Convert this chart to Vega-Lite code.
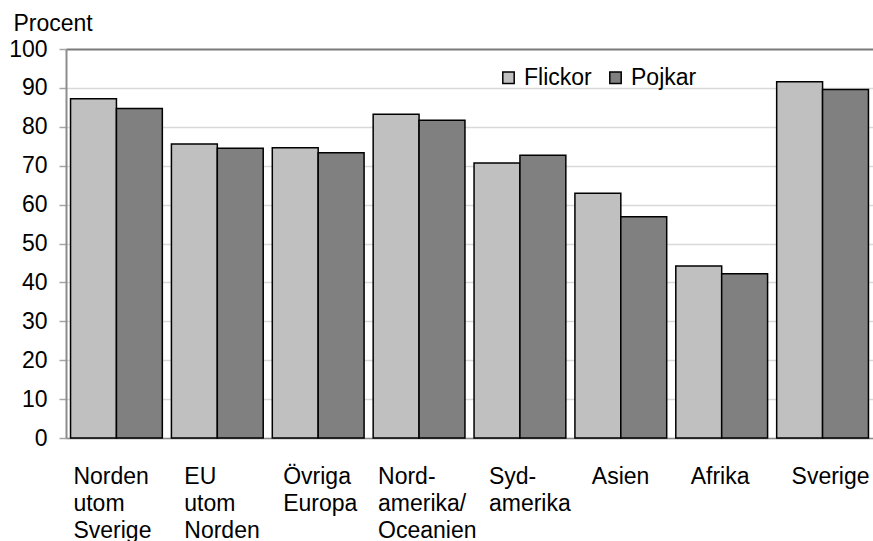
{
  "$schema": "https://vega.github.io/schema/vega-lite/v6.json",
  "width": 807,
  "height": 389,
  "autosize": {"type": "none"},
  "padding": {"left": 66, "top": 49, "right": 0, "bottom": 103},
  "background": "white",
  "config": {
    "view": {"stroke": null},
    "font": "Liberation Sans",
    "axis": {"labelFont": "Liberation Sans", "titleFont": "Liberation Sans", "labelColor": "black", "titleColor": "black"},
    "legend": {"labelFont": "Liberation Sans"}
  },
  "data": {
    "values": [
      {"region": "Norden utom Sverige", "kon": "Flickor", "procent": 87.2},
      {"region": "Norden utom Sverige", "kon": "Pojkar", "procent": 84.7},
      {"region": "EU utom Norden", "kon": "Flickor", "procent": 75.6},
      {"region": "EU utom Norden", "kon": "Pojkar", "procent": 74.5},
      {"region": "Övriga Europa", "kon": "Flickor", "procent": 74.6},
      {"region": "Övriga Europa", "kon": "Pojkar", "procent": 73.3},
      {"region": "Nord- amerika/ Oceanien", "kon": "Flickor", "procent": 83.2},
      {"region": "Nord- amerika/ Oceanien", "kon": "Pojkar", "procent": 81.7},
      {"region": "Syd- amerika", "kon": "Flickor", "procent": 70.7},
      {"region": "Syd- amerika", "kon": "Pojkar", "procent": 72.7},
      {"region": "Asien", "kon": "Flickor", "procent": 62.9},
      {"region": "Asien", "kon": "Pojkar", "procent": 56.9},
      {"region": "Afrika", "kon": "Flickor", "procent": 44.2},
      {"region": "Afrika", "kon": "Pojkar", "procent": 42.2},
      {"region": "Sverige", "kon": "Flickor", "procent": 91.6},
      {"region": "Sverige", "kon": "Pojkar", "procent": 89.6}
    ]
  },
  "mark": {"type": "bar", "stroke": "black", "strokeWidth": 1.5},
  "encoding": {
    "x": {
      "field": "region",
      "type": "nominal",
      "sort": null,
      "scale": {"paddingInner": 0.09, "paddingOuter": 0.045},
      "axis": {
        "title": null,
        "labelAngle": 0,
        "labelExpr": "split(datum.label, ' ')",
        "labelFontSize": 23,
        "labelLineHeight": 27,
        "labelBaseline": "top",
        "labelAlign": "left",
        "labelPadding": 27,
        "labelOffset": {
          "condition": [
            {"test": "datum.value === 'Norden utom Sverige'", "value": -43},
            {"test": "datum.value === 'EU utom Norden'", "value": -33},
            {"test": "datum.value === 'Övriga Europa'", "value": -35},
            {"test": "datum.value === 'Nord- amerika/ Oceanien'", "value": -41},
            {"test": "datum.value === 'Asien'", "value": -29}
          ],
          "value": -31
        },
        "ticks": false,
        "domainColor": "#8c8c8c",
        "domainWidth": 1.5,
        "labelOverlap": false,
        "labelBound": false
      }
    },
    "xOffset": {"field": "kon", "type": "nominal", "scale": {"paddingInner": 0, "paddingOuter": 0}},
    "y": {
      "field": "procent",
      "type": "quantitative",
      "scale": {"domain": [0, 100], "nice": false},
      "axis": {
        "title": "Procent",
        "titleAngle": 0,
        "titleAlign": "left",
        "titleBaseline": "alphabetic",
        "titleX": -53,
        "titleY": -19,
        "titleFontSize": 23,
        "titleFontWeight": "normal",
        "values": [0, 10, 20, 30, 40, 50, 60, 70, 80, 90, 100],
        "labelFontSize": 23,
        "labelPadding": 12,
        "tickSize": 7,
        "tickColor": "#a6a6a6",
        "tickWidth": 1.5,
        "domainColor": "#8c8c8c",
        "domainWidth": 2,
        "grid": true,
        "gridColor": {"condition": {"test": "datum.value === 100", "value": "#7a7a7a"}, "value": "#d9d9d9"},
        "gridWidth": {"condition": {"test": "datum.value === 100", "value": 2}, "value": 1.5}
      }
    },
    "color": {
      "field": "kon",
      "type": "nominal",
      "scale": {"domain": ["Flickor", "Pojkar"], "range": ["#c0c0c0", "#808080"]},
      "legend": {
        "title": null,
        "orient": "none",
        "legendX": 431,
        "legendY": 17,
        "direction": "horizontal",
        "padding": 0,
        "symbolType": "square",
        "symbolSize": 130,
        "symbolStrokeColor": "black",
        "symbolStrokeWidth": 1.5,
        "labelFontSize": 23,
        "labelColor": "black",
        "labelOffset": 4,
        "columnPadding": 12
      }
    }
  }
}
